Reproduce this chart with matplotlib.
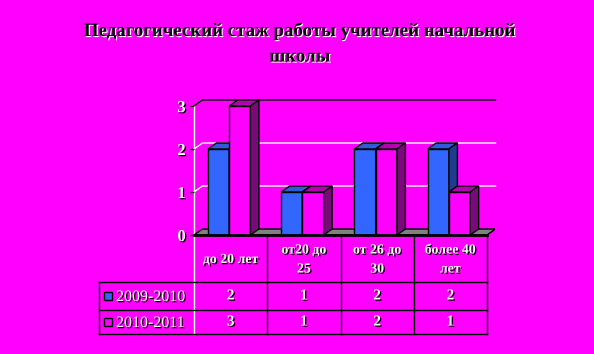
import matplotlib
matplotlib.use("Agg")
import matplotlib.pyplot as plt
import matplotlib.patheffects as pe
from matplotlib.patches import Polygon, Rectangle

# data
title_lines = ["Педагогический стаж работы учителей начальной", "школы"]
categories = ["до 20 лет", "от20 до\n25", "от 26 до\n30", "более 40\nлет"]
series_names = ["2009-2010", "2010-2011"]
values_0910 = [2, 1, 2, 2]
values_1011 = [3, 1, 2, 1]
y_ticks = [0, 1, 2, 3]

BG = "#FF00FF"
front_colors = ["#3366FF", "#FF00FF"]
top_colors = ["#2F5BD8", "#B400B4"]
side_colors = ["#1F3D8F", "#7A0A7A"]
SERIF = "Liberation Serif"

W, H = 594, 354
fig = plt.figure(figsize=(W / 100, H / 100), dpi=100)
fig.patch.set_facecolor(BG)

# plot area in pixels (front plane) + depth of the 3d effect
x0, x1 = 194, 487
y0, y3 = 235, 106
ddx, ddy = 8.5, 6
ux = (x1 - x0) / 4.0
uy = (y0 - y3) / 3.0
dx = ddx / ux
dy = ddy / uy

white_fx = [pe.withSimplePatchShadow(offset=(0.9, -0.9), shadow_rgbFace="black", alpha=1.0)]
black_fx = [pe.withSimplePatchShadow(offset=(0.8, -0.8), shadow_rgbFace="white", alpha=1.0)]

# title
for k, line in enumerate(title_lines):
    fig.text(300 / W, 1 - (31 + 26 * k) / H, line, ha="center", va="center",
             fontsize=13.6, fontweight="bold", family=SERIF, color="black",
             path_effects=black_fx)

# ---- chart ----
ax = fig.add_axes([x0 / W, (H - y0) / H, (x1 - x0 + ddx) / W, (y0 - y3 + ddy) / H])
ax.set_xlim(0, 4 + dx)
ax.set_ylim(0, 3 + dy)
ax.set_facecolor("none")
for s in ax.spines.values():
    s.set_visible(False)
ax.set_xticks([])
ax.set_yticks(y_ticks)
ax.set_yticklabels([str(t) for t in y_ticks])
ax.tick_params(axis="y", length=3, width=1, color="black", pad=3)
for lab in ax.get_yticklabels():
    lab.set_fontfamily(SERIF)
    lab.set_fontweight("bold")
    lab.set_fontsize(12)
    lab.set_color("white")
    lab.set_path_effects(white_fx)

# back wall grid + left wall
for t in y_ticks[1:]:
    col = "black" if t == y_ticks[-1] else "white"
    ax.plot([0, dx, 4 + dx], [t, t + dy, t + dy], color=col, lw=1, zorder=1, clip_on=False)
ax.plot([0, 0], [0, y_ticks[-1]], color="white", lw=1, zorder=1, clip_on=False)

# floor
ax.add_patch(Polygon([(0, 0), (4, 0), (4 + dx, dy), (dx, dy)], closed=True,
                     fc="#808080", ec="black", lw=1, zorder=2))
ax.plot([0, 4], [0, 0], color="black", lw=2, zorder=5, clip_on=False)

offsets = [0.19, 0.48]
bw = 0.29
all_values = [values_0910, values_1011]


def bar3d(x, h, i):
    ax.add_patch(Rectangle((x, 0), bw, h, fc=front_colors[i], ec="black", lw=1, zorder=3))
    ax.add_patch(Polygon([(x, h), (x + bw, h), (x + bw + dx, h + dy), (x + dx, h + dy)],
                         closed=True, fc=top_colors[i], ec="black", lw=1, zorder=3))
    ax.add_patch(Polygon([(x + bw, 0), (x + bw + dx, dy), (x + bw + dx, h + dy), (x + bw, h)],
                         closed=True, fc=side_colors[i], ec="black", lw=1, zorder=3))


for c in range(len(categories)):
    for i, vals in enumerate(all_values):
        bar3d(c + offsets[i], vals[c], i)

# ---- data table ----
tab = fig.add_axes([0, 0, 1, 1], zorder=-1)
tab.set_xlim(0, W)
tab.set_ylim(H, 0)
tab.axis("off")

cols = [x0 + k * ux for k in range(5)]
rows = [y0, 282, 310, 334]
xl = 99

tab.plot([cols[0], cols[0]], [rows[0], rows[-1]], color="white", lw=1)
for cx in cols[1:]:
    tab.plot([cx, cx], [rows[0], rows[-1]], color="black", lw=1)
tab.plot([xl, xl], [rows[1], rows[-1]], color="black", lw=1)
for ry in rows[1:]:
    tab.plot([xl, cols[-1]], [ry, ry], color="black", lw=1)

for c, name in enumerate(categories):
    tab.text((cols[c] + cols[c + 1]) / 2, (rows[0] + rows[1]) / 2 + 1, name,
             ha="center", va="center", fontsize=10, fontweight="bold", family=SERIF,
             color="white", linespacing=1.6, path_effects=white_fx)

for i, vals in enumerate(all_values):
    cy = (rows[i + 1] + rows[i + 2]) / 2
    tab.add_patch(Rectangle((104, cy - 4), 8, 8, fc=front_colors[i], ec="black", lw=1))
    tab.text(116, cy + 1, series_names[i], ha="left", va="center", fontsize=11.5,
             family=SERIF, color="white", path_effects=white_fx)
    for c, v in enumerate(vals):
        tab.text((cols[c] + cols[c + 1]) / 2, cy, str(v), ha="center", va="center",
                 fontsize=11, fontweight="bold", family=SERIF, color="white",
                 path_effects=white_fx)

fig.savefig("out.png", dpi=100, facecolor=BG)
